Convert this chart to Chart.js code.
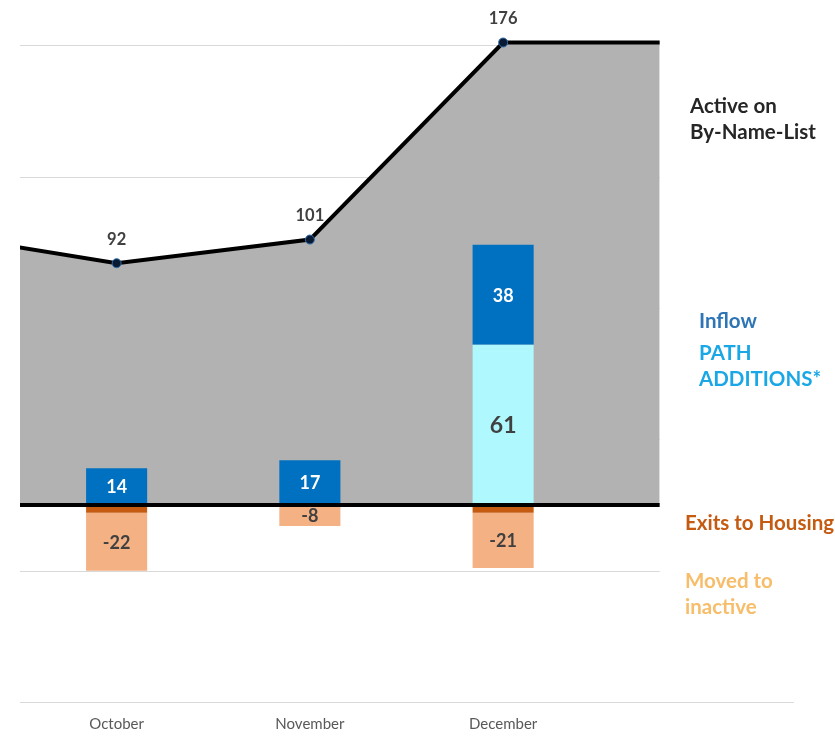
<!DOCTYPE html>
<html>
<head>
<meta charset="utf-8">
<script src="https://cdn.jsdelivr.net/npm/chart.js@4.4.0/dist/chart.umd.min.js"></script>
<style>
    html, body { margin: 0; padding: 0; background: #fff; }
    #chart-wrap { width: 835px; height: 736px; }
</style>
</head>
<body>
<div id="chart-wrap"><canvas id="flow-chart"></canvas></div>
<script>
// categories (4th slot is empty room for the side labels)
const months = ['October', 'November', 'December', ''];

// active on by-name-list, x is the category index (area runs past the edges)
const activeX = [-1, 0, 1, 2, 2.81];
const activeCounts = [104, 92, 101, 176, 176];

// monthly flows
const pathAdditions = [null, null, 61, null];
const inflow = [14, 17, 38, null];
const exitsToHousing = [-3, null, -3, null];
const movedInactive = [-22, -8, -21, null];

// light gridlines
const gridValues = [-25, 25, 75, 125, 175];

// side label texts
const activeLabel = ['Active on', 'By-Name-List'];
const inflowLabel = ['Inflow'];
const pathLabel = ['PATH', 'ADDITIONS*'];
const exitsLabel = ['Exits to Housing'];
const movedLabel = ['Moved to', 'inactive'];

const FONT = 'Lato, "Open Sans", sans-serif';
const areaEnd = activeX[activeX.length - 1];

const isMonthPoint = (i) => activeX[i] >= 0 && Number.isInteger(activeX[i]);

const gridPlugin = {
    id: 'partialGrid',
    beforeDatasetsDraw(chart) {
        const { ctx, chartArea, scales } = chart;
        const right = scales.xl.getPixelForValue(areaEnd);
        ctx.save();
        ctx.strokeStyle = '#d9d9d9';
        ctx.lineWidth = 1;
        gridValues.forEach((v) => {
            const y = Math.round(scales.y.getPixelForValue(v)) + 0.5;
            ctx.beginPath();
            ctx.moveTo(chartArea.left, y);
            ctx.lineTo(right, y);
            ctx.stroke();
        });
        ctx.restore();
    },
};

const valueLabelPlugin = {
    id: 'valueLabels',
    afterDatasetsDraw(chart) {
        const { ctx } = chart;
        ctx.save();
        ctx.textAlign = 'center';
        ctx.textBaseline = 'middle';
        chart.data.datasets.forEach((ds, i) => {
            if (!ds.labelFont) {
                return;
            }
            const meta = chart.getDatasetMeta(i);
            ctx.font = ds.labelFont;
            ctx.fillStyle = ds.labelColor;
            meta.data.forEach((el, j) => {
                const raw = ds.data[j];
                if (raw === null || raw === undefined) {
                    return;
                }
                if (meta.type === 'line') {
                    if (!isMonthPoint(j)) {
                        return;
                    }
                    ctx.fillText(String(raw.y), el.x, el.y - 24);
                } else {
                    const { x, y, base } = el.getProps(['x', 'y', 'base'], true);
                    ctx.fillText(String(raw), x, (y + base) / 2 + 1);
                }
            });
        });
        ctx.restore();
    },
};

const sideLabelPlugin = {
    id: 'sideLabels',
    afterDraw(chart) {
        const { ctx, scales } = chart;
        const groups = [
            { lines: activeLabel, x: 690, value: 151.5, color: '#262626' },
            { lines: inflowLabel, x: 699, value: 69.7, color: '#2e75b6' },
            { lines: pathLabel, x: 699, value: 57.8, color: '#1aa7e6' },
            { lines: exitsLabel, x: 685, value: -7.2, color: '#c55a11' },
            { lines: movedLabel, x: 685, value: -29, color: '#f7bd6a' },
        ];
        ctx.save();
        ctx.font = `bold 20.5px ${FONT}`;
        ctx.textAlign = 'left';
        ctx.textBaseline = 'middle';
        groups.forEach((g) => {
            const y0 = scales.y.getPixelForValue(g.value);
            ctx.fillStyle = g.color;
            g.lines.forEach((line, k) => {
                ctx.fillText(line, g.x, y0 + k * 26);
            });
        });
        ctx.restore();
    },
};

const barCommon = {
    type: 'bar',
    xAxisID: 'x',
    yAxisID: 'y',
    stack: 'flow',
    grouped: false,
    order: 5,
    categoryPercentage: 1,
    barPercentage: 0.316,
    borderWidth: 0,
};

new Chart(document.getElementById('flow-chart'), {
    data: {
        labels: months,
        datasets: [
            {
                type: 'line',
                label: 'Active on By-Name-List',
                xAxisID: 'xl',
                yAxisID: 'y',
                data: activeX.map((x, i) => ({ x, y: activeCounts[i] })),
                borderColor: '#000000',
                borderWidth: 4,
                backgroundColor: '#b2b2b2',
                fill: 'origin',
                tension: 0,
                clip: 0,
                order: 10,
                pointRadius: (c) => (isMonthPoint(c.dataIndex) ? 4.5 : 0),
                pointBackgroundColor: '#0b1a33',
                pointBorderColor: '#2f6fb0',
                pointBorderWidth: 1,
                labelFont: `bold 16.5px ${FONT}`,
                labelColor: '#404040',
            },
            {
                ...barCommon,
                label: 'PATH ADDITIONS*',
                data: pathAdditions,
                backgroundColor: '#aff8fd',
                labelFont: `bold 23px ${FONT}`,
                labelColor: '#404040',
            },
            {
                ...barCommon,
                label: 'Inflow',
                data: inflow,
                backgroundColor: '#0070c0',
                labelFont: `bold 18px ${FONT}`,
                labelColor: '#ffffff',
            },
            {
                ...barCommon,
                label: 'Exits to Housing',
                data: exitsToHousing,
                backgroundColor: '#c55a11',
            },
            {
                ...barCommon,
                label: 'Moved to inactive',
                data: movedInactive,
                backgroundColor: '#f4b183',
                labelFont: `bold 18px ${FONT}`,
                labelColor: '#404040',
            },
            {
                type: 'line',
                label: 'zero',
                xAxisID: 'xl',
                yAxisID: 'y',
                data: [{ x: activeX[0], y: 0 }, { x: areaEnd, y: 0 }],
                borderColor: '#000000',
                borderWidth: 4,
                pointRadius: 0,
                clip: 0,
                order: 1,
            },
        ],
    },
    options: {
        responsive: true,
        maintainAspectRatio: false,
        animation: false,
        layout: {
            padding: { left: 20, right: 42, top: 32, bottom: -10 },
        },
        plugins: {
            legend: { display: false },
            tooltip: { enabled: false },
        },
        scales: {
            x: {
                type: 'category',
                offset: true,
                grid: { display: true, color: 'rgba(0,0,0,0)', drawTicks: false },
                border: { display: true, color: '#d9d9d9', width: 1 },
                ticks: {
                    color: '#595959',
                    font: { family: FONT, size: 15 },
                    padding: 13,
                },
            },
            xl: {
                type: 'linear',
                display: false,
                min: -0.5,
                max: months.length - 0.5,
            },
            y: {
                display: false,
                min: -75,
                max: 180,
            },
        },
    },
    plugins: [gridPlugin, valueLabelPlugin, sideLabelPlugin],
});
</script>
</body>
</html>
